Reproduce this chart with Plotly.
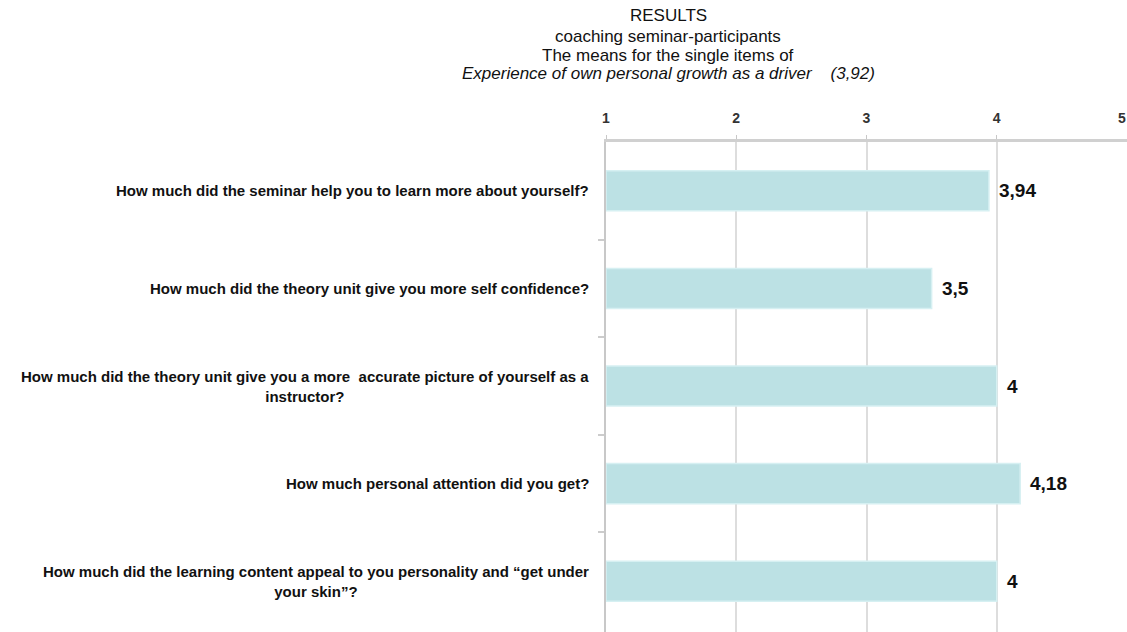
import plotly.graph_objects as go

categories = [
    "How much did the seminar help you to learn more about yourself?",
    "How much did the theory unit give you more self confidence?",
    "How much did the theory unit give you a more  accurate picture of yourself as a<br>instructor?",
    "How much personal attention did you get?",
    "How much did the learning content appeal to you personality and “get under<br>your skin”?",
]
values = [3.94, 3.5, 4.0, 4.18, 4.0]
value_labels = ["3,94", "3,5", "4", "4,18", "4"]
tick_vals = [1, 2, 3, 4, 5]
tick_text = ["1", "2", "3", "4", "5"]
title_lines = [
    "RESULTS",
    "coaching seminar-participants",
    "The means for the single items of",
    "<i>Experience of own personal growth as a driver&nbsp;&nbsp;&nbsp; (3,92)</i>",
]
scale_min = 1

ids = list(range(len(categories)))
FONT = "Liberation Sans, Arial"

fig = go.Figure()
fig.add_trace(go.Bar(
    y=ids,
    x=[v - scale_min for v in values],
    base=scale_min,
    orientation="h",
    width=0.41,
    marker=dict(color="#bce1e4", line=dict(color="#d6f0f2", width=1.5)),
    hoverinfo="skip",
))

annotations = []
for i, c in zip(ids, categories):
    annotations.append(dict(
        x=0, xref="paper", xanchor="right", xshift=-15,
        y=i, yref="y", yanchor="middle",
        text=c, showarrow=False, align="center",
        font=dict(family=FONT, size=15, color="#111111", weight="bold"),
    ))
for i, v, lab in zip(ids, values, value_labels):
    annotations.append(dict(
        x=v, xref="x", xanchor="left", xshift=8,
        y=i, yref="y", yanchor="middle",
        text=lab, showarrow=False,
        font=dict(family=FONT, size=19, color="#111111", weight="bold"),
    ))
# title lines, placed in pixel space (paper spans 606..1127 x, 142..632 y)
title_y_px = [15, 36, 55, 74]
for line, ypx in zip(title_lines, title_y_px):
    annotations.append(dict(
        x=(668 - 606) / 521, xref="paper", xanchor="center",
        y=(632 - ypx) / 490, yref="paper", yanchor="middle",
        text=line, showarrow=False,
        font=dict(family=FONT, size=17, color="#111111"),
    ))
# last tick label sits on the right edge of the canvas; keep it fully visible
annotations.append(dict(
    x=tick_vals[-1], xref="x", xanchor="right", xshift=1,
    y=(632 - 118) / 490, yref="paper", yanchor="middle",
    text=tick_text[-1], showarrow=False,
    font=dict(family=FONT, size=14, color="#333333", weight="bold"),
))

fig.update_layout(
    width=1127, height=632,
    margin=dict(l=606, r=0, t=142, b=0),
    paper_bgcolor="white", plot_bgcolor="white",
    showlegend=False,
    xaxis=dict(
        side="top", range=[1, 5], tickvals=tick_vals[:-1], ticktext=tick_text[:-1],
        showgrid=True, gridcolor="#dddddd", gridwidth=2,
        showline=True, linecolor="#d0d0d0", linewidth=3,
        ticks="outside", ticklen=4, tickcolor="#c8c8c8",
        ticklabelstandoff=6,
        tickfont=dict(family=FONT, size=14, color="#333333", weight="bold"),
        zeroline=False,
    ),
    yaxis=dict(
        type="linear", range=[4.52, -0.5], tickvals=[0.5, 1.5, 2.5, 3.5],
        showticklabels=False, showgrid=False, zeroline=False,
        showline=True, linecolor="#c8c8c8", linewidth=2,
        ticks="outside", ticklen=6, tickcolor="#cccccc", tickwidth=1.5,
    ),
    annotations=annotations,
)

fig.write_html("out.html")
